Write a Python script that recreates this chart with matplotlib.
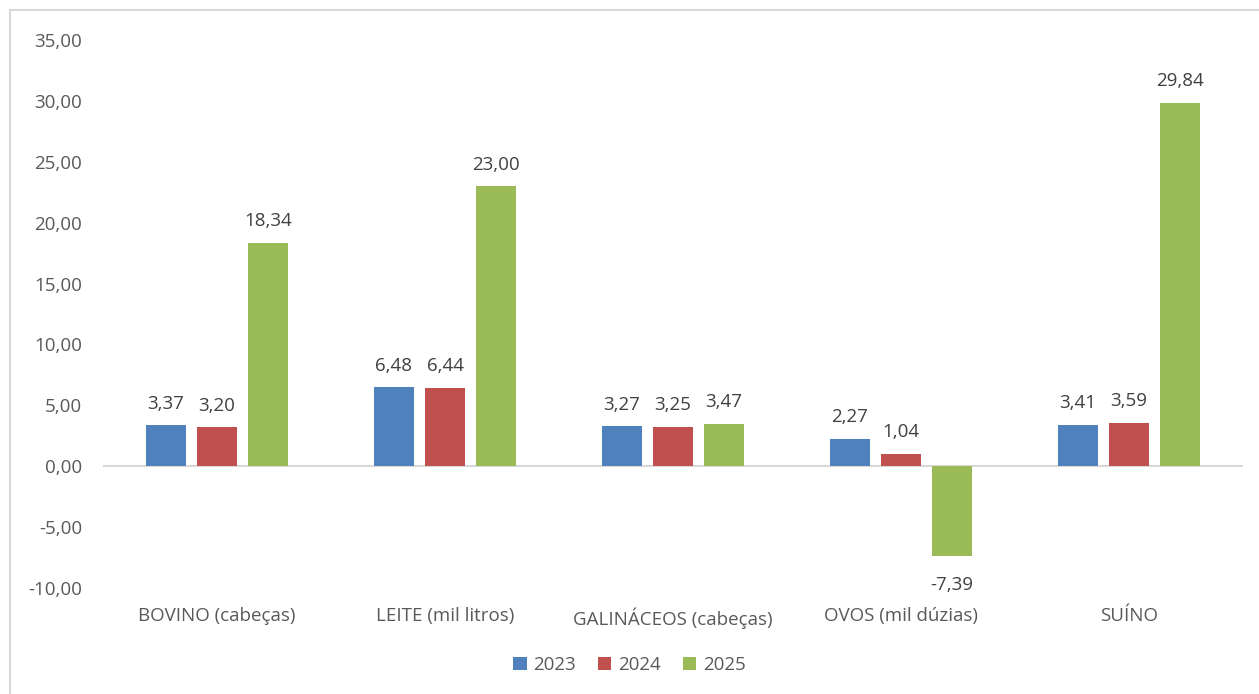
import matplotlib.pyplot as plt
from matplotlib.patches import Rectangle
import numpy as np

plt.rcParams['font.family'] = ['Open Sans', 'DejaVu Sans']

categories = ['BOVINO (cabeças)', 'LEITE (mil litros)', 'GALINÁCEOS (cabeças)', 'OVOS (mil dúzias)', 'SUÍNO']
years = ['2023', '2024', '2025']
v2023 = [3.37, 6.48, 3.27, 2.27, 3.41]
v2024 = [3.20, 6.44, 3.25, 1.04, 3.59]
v2025 = [18.34, 23.00, 3.47, -7.39, 29.84]
yticks = [-10, -5, 0, 5, 10, 15, 20, 25, 30, 35]

colors = ['#4F81BD', '#C0504D', '#9BBB59']

def fmt(v):
	return '{:.2f}'.format(v).replace('.', ',')

fig = plt.figure(figsize=(12.59, 6.94), dpi=100)
ax = fig.add_axes([103/1259, 1-588/694, 1140/1259, 548/694])

x = np.arange(len(categories))
step = 0.224
width = 0.175
for i, (vals, col, yr) in enumerate(zip([v2023, v2024, v2025], colors, years)):
	bars = ax.bar(x + (i-1)*step, vals, width, color=col, label=yr, zorder=2)
	for b, v in zip(bars, vals):
		cx = b.get_x() + b.get_width()/2
		if v >= 0:
			ax.annotate(fmt(v), (cx, v), xytext=(0, 9), textcoords='offset points',
				ha='center', va='bottom', fontsize=13.5, color='#404040')
		else:
			ax.annotate(fmt(v), (cx, v), xytext=(0, -14), textcoords='offset points',
				ha='center', va='top', fontsize=13.5, color='#404040')

ax.axhline(0, color='#D9D9D9', lw=1.5, zorder=1)
ax.set_xlim(-0.5, len(categories)-0.5)
ax.set_ylim(-10, 35)
ax.set_yticks(yticks)
ax.set_yticklabels([fmt(t) for t in yticks])
ax.set_xticks(x)
ax.set_xticklabels(categories)
ax.tick_params(axis='both', length=0, labelsize=13.5, labelcolor='#595959')
ax.tick_params(axis='y', pad=15)
ax.tick_params(axis='x', pad=14)
for s in ax.spines.values():
	s.set_visible(False)

fig.legend(loc='center', bbox_to_anchor=(0.5, 1-665/694), ncol=3, frameon=False,
	fontsize=13.5, handlelength=0.7, handleheight=0.7, handletextpad=0.35,
	columnspacing=1.2, labelcolor='#595959')

fig.add_artist(Rectangle((10/1259, -0.1), 1.2, 1.1-10/694, transform=fig.transFigure,
	fill=False, edgecolor='#D9D9D9', lw=1.5))

fig.savefig('out.png', dpi=100)
